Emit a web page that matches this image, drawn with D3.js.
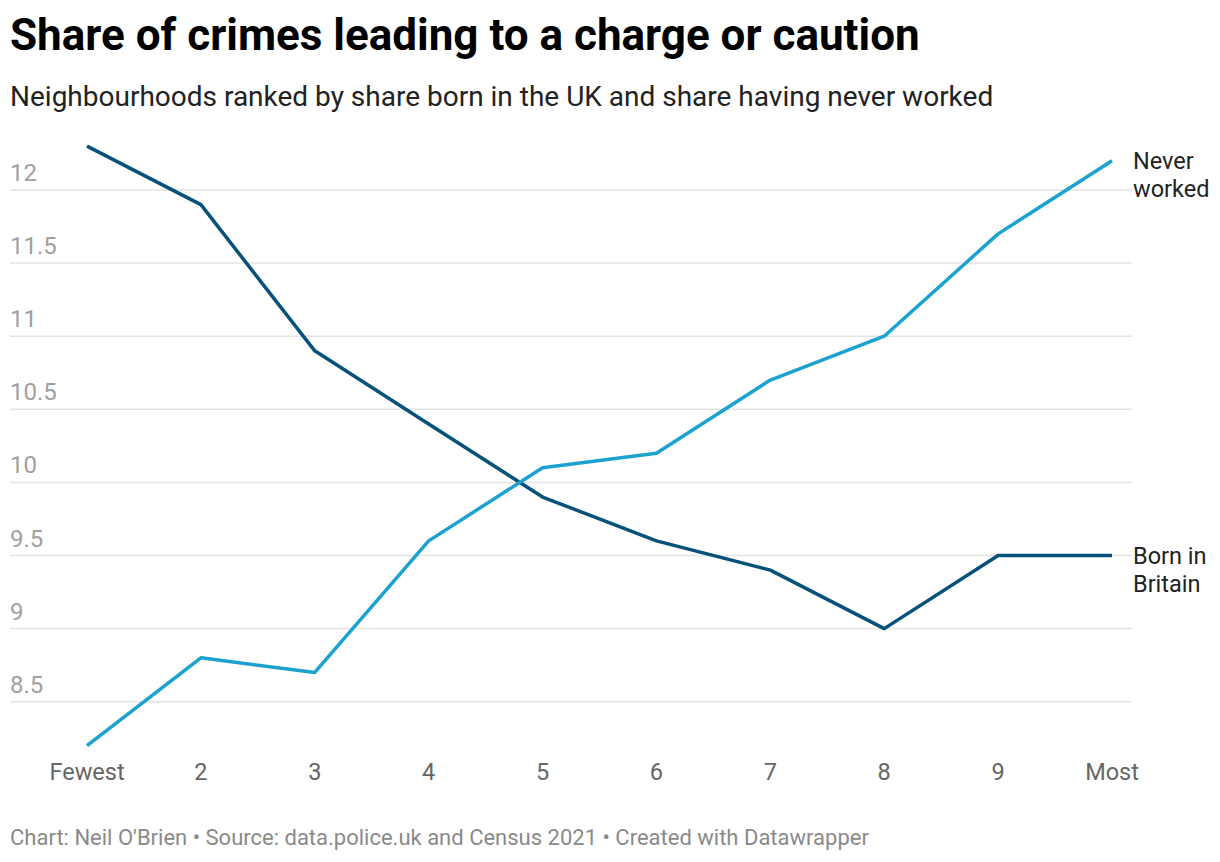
<!DOCTYPE html>
<html>
<head>
<meta charset="utf-8">
<script src="https://cdn.jsdelivr.net/npm/d3@7"></script>
<style>
  body { margin: 0; background: #fff; }
  svg { font-family: Roboto, "Noto Sans", sans-serif; }
</style>
</head>
<body>
<div id="chart"></div>
<script>
// categories along the x axis (neighbourhood deciles)
const deciles = ["Fewest", "2", "3", "4", "5", "6", "7", "8", "9", "Most"];
// share of crimes leading to a charge or caution, %
const bornInBritain = [12.3, 11.9, 10.9, 10.4, 9.9, 9.6, 9.4, 9.0, 9.5, 9.5];
const neverWorked = [8.2, 8.8, 8.7, 9.6, 10.1, 10.2, 10.7, 11.0, 11.7, 12.2];
const yTicks = [8.5, 9, 9.5, 10, 10.5, 11, 11.5, 12];

const width = 1220, height = 862;

const svg = d3.select("#chart").append("svg")
    .attr("width", width)
    .attr("height", height);

svg.append("text")
    .attr("x", 10).attr("y", 50)
    .attr("font-size", 44).attr("font-weight", "bold")
    .attr("fill", "#000")
    .text("Share of crimes leading to a charge or caution");

svg.append("text")
    .attr("x", 10).attr("y", 106)
    .attr("font-size", 28)
    .attr("fill", "#222")
    .text("Neighbourhoods ranked by share born in the UK and share having never worked");

let x = d3.scalePoint()
    .domain(deciles)
    .range([87, 1112]);

let y = d3.scaleLinear()
    .domain([8.5, 12])
    .range([701.7, 190]);

// gridlines with labels sitting above each line
let grid = svg.append("g").selectAll("g")
    .data(yTicks)
    .enter().append("g")
    .attr("transform", d => "translate(0," + y(d) + ")");

grid.append("line")
    .attr("x1", 10).attr("x2", 1132)
    .attr("stroke", "#e3e3e3")
    .attr("stroke-width", 1.5);

grid.append("text")
    .attr("x", 10).attr("y", -9)
    .attr("font-size", 24)
    .attr("fill", "#a0a0a0")
    .text(d => d);

// x axis labels
svg.append("g").selectAll("text")
    .data(deciles)
    .enter().append("text")
    .attr("x", d => x(d))
    .attr("y", 780)
    .attr("text-anchor", "middle")
    .attr("font-size", 23.5)
    .attr("fill", "#666")
    .text(d => d);

let line = d3.line()
    .x((d, i) => x(deciles[i]))
    .y(d => y(d));

let series = [
    {name: ["Born in", "Britain"], values: bornInBritain, color: "#07517a"},
    {name: ["Never", "worked"], values: neverWorked, color: "#1ba2cf"}
];

svg.append("g").selectAll("path")
    .data(series)
    .enter().append("path")
    .attr("d", d => line(d.values))
    .attr("fill", "none")
    .attr("stroke", d => d.color)
    .attr("stroke-width", 3.5)
    .attr("stroke-linejoin", "round");

// direct labels at the end of each line
let labels = svg.append("g").selectAll("text")
    .data(series)
    .enter().append("text")
    .attr("x", 1133)
    .attr("y", d => y(d.values[d.values.length - 1]) + 8)
    .attr("font-size", 23.5)
    .attr("fill", "#222");

labels.selectAll("tspan")
    .data(d => d.name)
    .enter().append("tspan")
    .attr("x", 1133)
    .attr("dy", (d, i) => i === 0 ? 0 : 28.5)
    .text(d => d);

svg.append("text")
    .attr("x", 10).attr("y", 845)
    .attr("font-size", 22)
    .attr("fill", "#8a8a8a")
    .text("Chart: Neil O'Brien \u2022 Source: data.police.uk and Census 2021 \u2022 Created with Datawrapper");
</script>
</body>
</html>
